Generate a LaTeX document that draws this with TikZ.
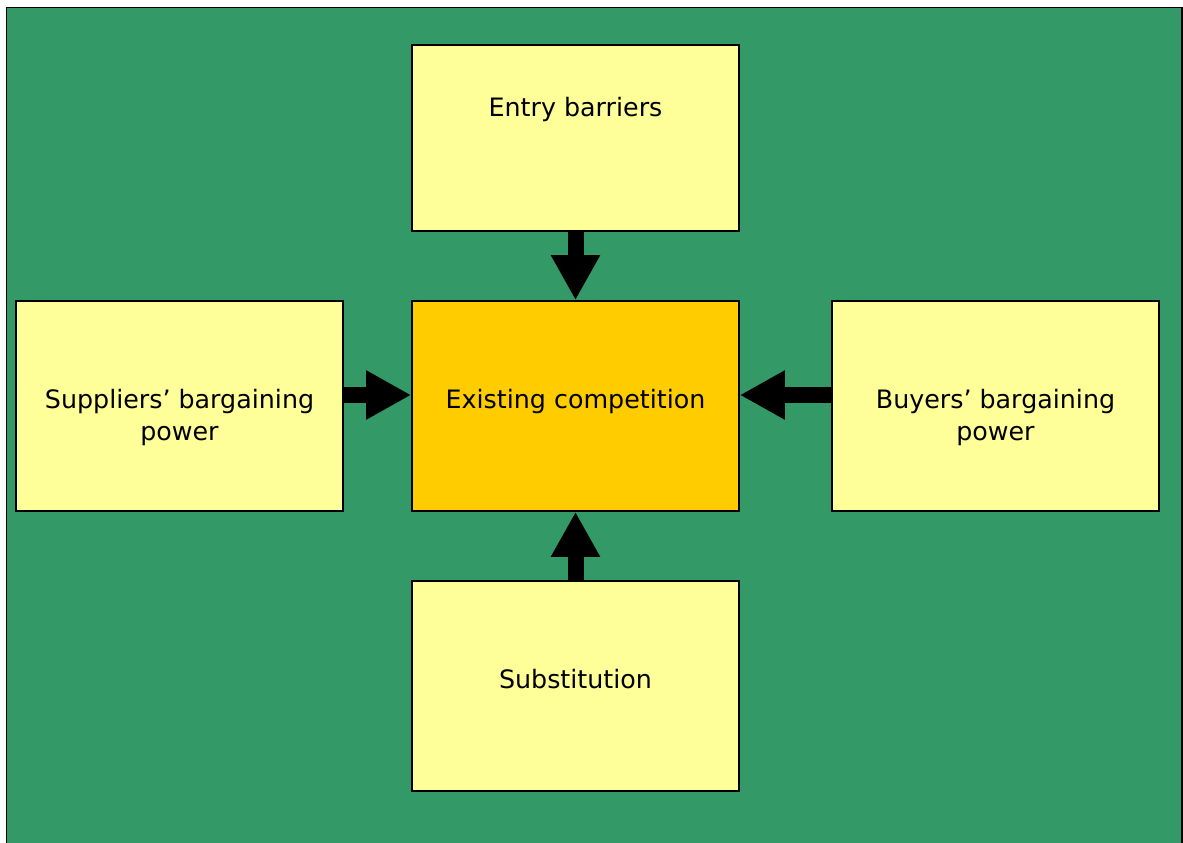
\documentclass[tikz,border=0pt]{standalone}
\usepackage{fontspec}
\setmainfont{DejaVu Sans}
\usetikzlibrary{arrows.meta, positioning}

\definecolor{porterbg}{HTML}{339966}
\definecolor{forcefill}{HTML}{FFFF99}
\definecolor{corefill}{HTML}{FFCC00}

\begin{document}
\begin{tikzpicture}[
        x=0.75pt, y=-0.75pt,
        force/.style={rectangle, draw=black, fill=forcefill, line width=1.2pt,
                      minimum width=327*0.75pt, minimum height=210*0.75pt,
                      inner sep=0pt},
        core/.style={force, fill=corefill},
        lbl/.style={font=\fontsize{19}{24}\selectfont, align=center,
                    inner sep=0pt, anchor=base},
        push/.style={line width=12pt, draw=black,
                     -{Triangle[length=33.75pt, width=34.5pt]}}
    ]
        \useasboundingbox (0,0) rectangle (1183,843);
        \begin{scope}
            \clip (0,0) rectangle (1183,843);
            \draw[fill=porterbg, draw=black, line width=1pt]
                (6.5,7.5) rectangle (1182,860);
        \end{scope}

        % boxes
        \node[core] (core) at (575.5,406) {};
        \node[force, minimum height=186*0.75pt] (entry) at (575.5,138) {};
        \node[force] (supp) at (179.5,406) {};
        \node[force] (buy) at (995.5,406) {};
        \node[force] (subst) at (575.5,686) {};

        % texts
        \node[lbl] (corelbl) at (575.5,408) {Existing competition};
        \node[lbl] (entrylbl) at (575.5,116) {Entry barriers};
        \node[lbl] (supplbl) at (179.5,440) {Suppliers’ bargaining\\power};
        \node[lbl] (buylbl) at (995.5,440) {Buyers’ bargaining\\power};
        \node[lbl] (substlbl) at (575.5,688) {Substitution};

        \draw[push] (entry) -- (core);
        \draw[push] (subst) -- (core);
        \draw[push] (supp.east |- 0,395) -- (core.west |- 0,395);
        \draw[push] (buy.west |- 0,395) -- (core.east |- 0,395);
    \end{tikzpicture}
\end{document}
